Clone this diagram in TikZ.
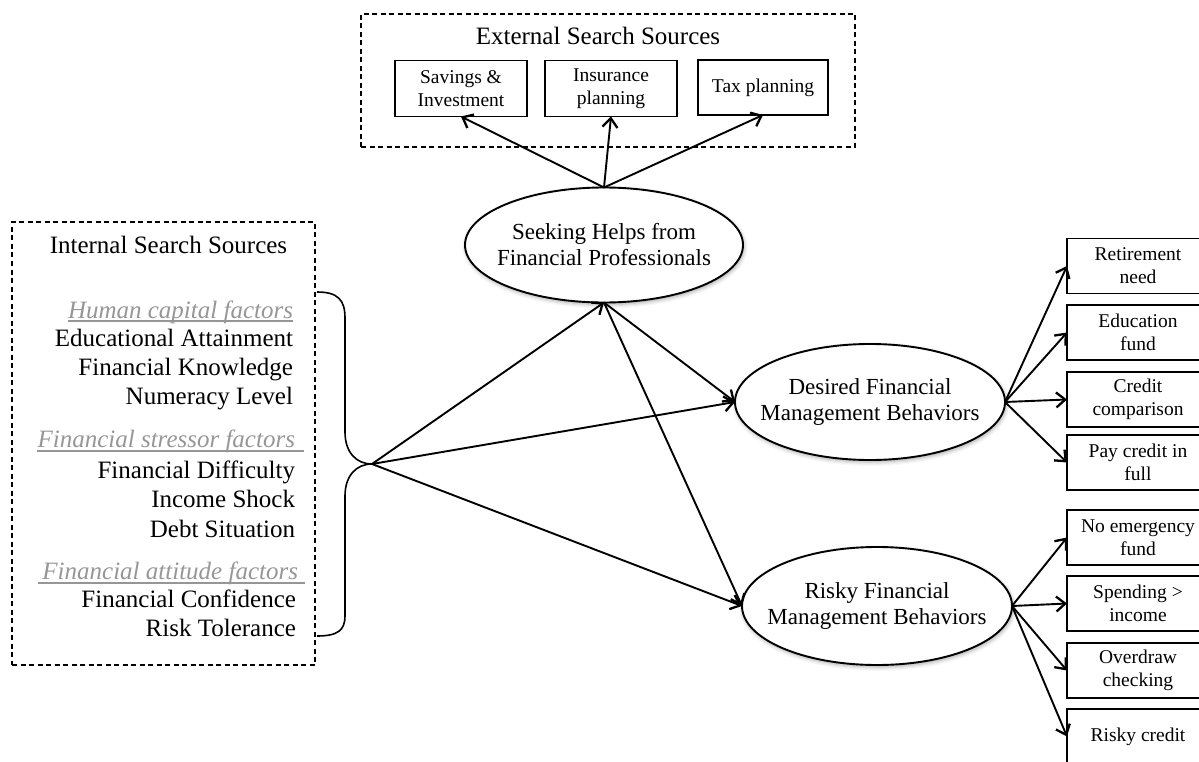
\documentclass[tikz,border=0pt]{standalone}
\usepackage{fontspec}
\setmainfont{Liberation Serif}
\usetikzlibrary{arrows.meta,shapes.geometric,shadows.blur}
\definecolor{hdrgray}{RGB}{150,150,150}
\begin{document}
\begin{tikzpicture}[x=1pt,y=-1pt,
  line width=1.9pt,
  every node/.style={inner sep=0pt, outer sep=0pt},
  arr/.style={-{Straight Barb[length=9pt,width=15pt,line width=2.3pt]}},
  groupbox/.style={draw, dash pattern=on 5pt off 3.5pt, line width=1.4pt},
  srcbox/.style={draw, minimum width=132pt, minimum height=56pt, align=center,
    font=\fontsize{19.5}{23}\selectfont},
  outbox/.style={draw, minimum width=142pt, minimum height=55pt, align=center,
    font=\fontsize{19.5}{23}\selectfont},
  construct/.style={ellipse, draw, fill=white,
    blur shadow={shadow xshift=1pt, shadow yshift=-2pt,
      shadow blur radius=4pt, shadow opacity=35}},
  ctext/.style={align=center, font=\fontsize{23}{26}\selectfont},
  listitem/.style={anchor=base east, font=\fontsize{25}{29}\selectfont},
  header/.style={anchor=base east, text=hdrgray, font=\fontsize{25}{29}\selectfont\itshape},
  hline/.style={draw=hdrgray, line width=1.4pt},
]
\path[use as bounding box] (0,0) rectangle (1199,762);
\clip (0,0) rectangle (1199,762);

% ---------- external search sources ----------
\node[groupbox, minimum width=494pt, minimum height=133pt] (ext) at (608,80.5) {};
\node[anchor=base, font=\fontsize{25}{29}\selectfont] (exttitle) at (598,45) {External Search Sources};
\node[srcbox] (sav) at (461,88.5) {Savings \&\\Investment};
\node[srcbox] (ins) at (611,88.5) {Insurance\\planning};
\node[srcbox, minimum width=130pt, minimum height=55pt] (tax) at (763,87.5) {Tax planning};

% ---------- internal search sources ----------
\node[groupbox, minimum width=303pt, minimum height=443pt] (int) at (163.5,443.5) {};
\node[anchor=base, font=\fontsize{25}{29}\selectfont] (inttitle) at (168.5,253) {Internal Search Sources};

\node[header] (hc) at (293,318) {Human capital factors};
\node[listitem] (edu) at (293,346) {Educational Attainment};
\node[listitem] (know) at (293,375) {Financial Knowledge};
\node[listitem] (num) at (293,404) {Numeracy Level};
\node[header] (fs) at (295,447) {Financial stressor factors};
\node[listitem] (diff) at (295,478) {Financial Difficulty};
\node[listitem] (shock) at (295,507) {Income Shock};
\node[listitem] (debt) at (295,537) {Debt Situation};
\node[header] (fa) at (298,579) {Financial attitude factors};
\node[listitem] (conf) at (296,607) {Financial Confidence};
\node[listitem] (risk) at (296,636) {Risk Tolerance};

% underlines of the factor headings
\draw[hline] (hc.south west |- 0,321) -- (hc.south east |- 0,321);
\draw[hline] (37,451) -- (304,451);
\draw[hline] (38,583) -- (305,583);

% curly brace gathering the factors
\coordinate (tip) at (372,464);
\draw[line width=1.6pt] (317,292) .. controls (338,292) and (345,300) .. (345,318)
  -- (345,432) .. controls (345,452) and (356,464) .. (tip)
  .. controls (356,464) and (345,476) .. (345,496)
  -- (345,616) .. controls (345,630) and (338,636) .. (317,636);

% ---------- constructs ----------
\node[construct, minimum width=278pt, minimum height=115pt,
  label={[ctext]center:{Seeking Helps from\\Financial Professionals}}] (seek) at (604,245) {};
\node[construct, minimum width=270pt, minimum height=116pt,
  label={[ctext]center:{Desired Financial\\Management Behaviors}}] (des) at (870,402) {};
\node[construct, minimum width=270pt, minimum height=118pt,
  label={[ctext]center:{Risky Financial\\Management Behaviors}}] (rsk) at (877,606) {};

% ---------- outcome boxes ----------
\node[outbox] (ret)  at (1138,266)   {Retirement\\need};
\node[outbox] (edf)  at (1138,332.5) {Education\\fund};
\node[outbox] (cmp)  at (1138,399.5) {Credit\\comparison};
\node[outbox] (pay)  at (1138,462.5) {Pay credit in\\full};
\node[outbox] (emg)  at (1138,537.5) {No emergency\\fund};
\node[outbox] (spd)  at (1138,603.5) {Spending >\\income};
\node[outbox] (ovd)  at (1138,670.5) {Overdraw\\checking};
\node[outbox] (rcr)  at (1138,736.5) {Risky credit};

% ---------- connectors ----------
\draw[arr] (seek.north) -- (sav.south);
\draw[arr] (seek.north) -- (ins.south);
\draw[arr] (seek.north) -- (tax.south);

\draw[arr] (tip) -- (seek.south);
\draw[arr] (tip) -- (des.west);
\draw[arr] (tip) -- (rsk.west);
\draw[arr] (seek.south) -- (des.west);
\draw[arr] (seek.south) -- (rsk.west);

\draw[arr] (des.east) -- (ret.west);
\draw[arr] (des.east) -- (edf.west);
\draw[arr] (des.east) -- (cmp.west);
\draw[arr] (des.east) -- (pay.west);

\draw[arr] (rsk.east) -- (emg.west);
\draw[arr] (rsk.east) -- (spd.west);
\draw[arr] (rsk.east) -- (ovd.west);
\draw[arr] (rsk.east) -- (rcr.west);
\end{tikzpicture}
\end{document}
